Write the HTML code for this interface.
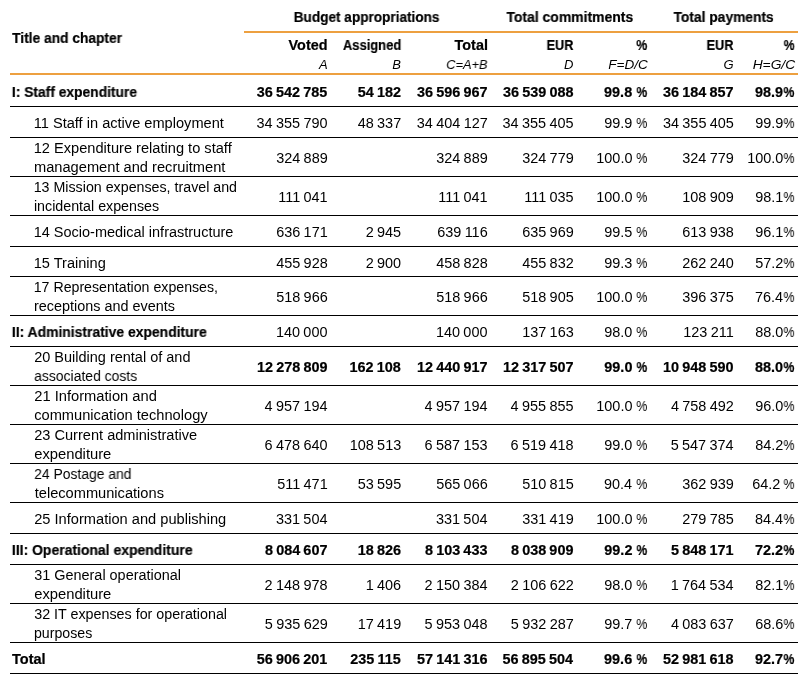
<!DOCTYPE html>
<html lang="en">
<head>
<meta charset="utf-8">
<title>Budget table</title>
<style>
html,body{margin:0;padding:0;background:#fff;}
body{width:804px;height:679px;position:relative;overflow:hidden;font-family:"Liberation Sans",sans-serif;color:#000;}
.t{position:absolute;white-space:nowrap;font-size:14px;line-height:16px;height:16px;will-change:transform;}
.l{transform-origin:0 50%;}
.r{transform-origin:100% 50%;}
.b,.bn{font-weight:bold;-webkit-text-stroke:0.2px #000;}
.nn{word-spacing:-0.63px;}
.bn{word-spacing:-0.8px;}
.i{font-style:italic;font-size:13px;}
.hl{position:absolute;left:10px;width:788px;height:1px;background:#000;}
.ol{position:absolute;height:2px;background:#EDA040;}
</style>
</head>
<body>
<div class="ol" style="left:244px;width:554px;top:31px"></div>
<div class="ol" style="left:10px;width:788px;top:73px"></div>
<div class="hl" style="top:106px"></div>
<div class="hl" style="top:137px"></div>
<div class="hl" style="top:176px"></div>
<div class="hl" style="top:215px"></div>
<div class="hl" style="top:246px"></div>
<div class="hl" style="top:276px"></div>
<div class="hl" style="top:315px"></div>
<div class="hl" style="top:346px"></div>
<div class="hl" style="top:385px"></div>
<div class="hl" style="top:424px"></div>
<div class="hl" style="top:463px"></div>
<div class="hl" style="top:502px"></div>
<div class="hl" style="top:533px"></div>
<div class="hl" style="top:564px"></div>
<div class="hl" style="top:603px"></div>
<div class="hl" style="top:642px"></div>
<div class="hl" style="top:673px"></div>
<div class="t b l" style="left:12px;top:30px;transform:translate(0.10px,0.00px) scaleX(0.9839)">Title and chapter</div>
<div class="t b l" style="left:293px;top:9px;transform:translate(0.75px,0.00px) scaleX(0.9705)">Budget appropriations</div>
<div class="t b l" style="left:506px;top:9px;transform:translate(0.45px,0.00px) scaleX(0.9957)">Total commitments</div>
<div class="t b l" style="left:673px;top:9px;transform:translate(0.55px,0.00px) scaleX(0.9851)">Total payments</div>
<div class="t b r" style="right:477px;top:37px;transform:translate(0.60px,0.00px) scaleX(1.0270)">Voted</div>
<div class="t b r" style="right:403px;top:37px;transform:translate(0.20px,0.00px) scaleX(0.9247)">Assigned</div>
<div class="t b r" style="right:317px;top:37px;transform:translate(0.50px,0.00px) scaleX(1.0286)">Total</div>
<div class="t b r" style="right:231px;top:37px;transform:translate(0.80px,0.00px) scaleX(0.9053)">EUR</div>
<div class="t b r" style="right:158px;top:37px;transform:translate(0.75px,0.00px) scaleX(0.8750)">%</div>
<div class="t b r" style="right:71px;top:37px;transform:translate(0.90px,0.00px) scaleX(0.9097)">EUR</div>
<div class="t b r" style="right:10px;top:37px;transform:translate(0.15px,0.00px) scaleX(0.8750)">%</div>
<div class="t i r" style="right:476px;top:57px;transform:translate(0.00px,0.00px)">A</div>
<div class="t i r" style="right:403px;top:57px;transform:translate(0.20px,0.00px)">B</div>
<div class="t i r" style="right:317px;top:57px;transform:translate(0.50px,0.00px) scaleX(0.9816)">C=A+B</div>
<div class="t i r" style="right:232px;top:57px;transform:translate(0.90px,0.00px)">D</div>
<div class="t i r" style="right:157px;top:57px;transform:translate(0.80px,0.00px) scaleX(1.0400)">F=D/C</div>
<div class="t i r" style="right:71px;top:57px;transform:translate(0.50px,0.00px)">G</div>
<div class="t i r" style="right:9px;top:57px;transform:translate(0.00px,0.00px) scaleX(1.0582)">H=G/C</div>
<div class="t b l" style="left:11px;top:84px;transform:translate(0.85px,0.00px) scaleX(0.9873)">I: Staff expenditure</div>
<div class="t bn r" style="right:478px;top:84px;transform:translate(0.75px,0.00px) scaleX(1.0300)">36 542 785</div>
<div class="t bn r" style="right:403px;top:84px;transform:translate(0.00px,0.00px) scaleX(1.0300)">54 182</div>
<div class="t bn r" style="right:317px;top:84px;transform:translate(0.00px,0.00px) scaleX(1.0300)">36 596 967</div>
<div class="t bn r" style="right:231px;top:84px;transform:translate(0.00px,0.00px) scaleX(1.0300)">36 539 088</div>
<div class="t bn r" style="right:173px;top:84px;transform:translate(0.90px,0.00px) scaleX(1.0300)">99.8</div>
<div class="t bn r" style="right:158px;top:84px;transform:translate(0.65px,0.00px) scaleX(0.8500)">%</div>
<div class="t bn r" style="right:71px;top:84px;transform:translate(0.10px,0.00px) scaleX(1.0300)">36 184 857</div>
<div class="t bn r" style="right:22px;top:84px;transform:translate(0.85px,0.00px) scaleX(1.0300)">98.9</div>
<div class="t bn r" style="right:11px;top:84px;transform:translate(0.85px,0.00px) scaleX(0.8681)">%</div>
<div class="t n l" style="left:33px;top:115px;transform:translate(0.70px,0.00px) scaleX(1.0428)">11 Staff in active employment</div>
<div class="t nn r" style="right:477px;top:115px;transform:translate(0.75px,0.00px) scaleX(1.0320)">34 355 790</div>
<div class="t nn r" style="right:403px;top:115px;transform:translate(0.00px,0.00px) scaleX(1.0320)">48 337</div>
<div class="t nn r" style="right:316px;top:115px;transform:translate(0.00px,0.00px) scaleX(1.0320)">34 404 127</div>
<div class="t nn r" style="right:231px;top:115px;transform:translate(0.75px,0.00px) scaleX(1.0320)">34 355 405</div>
<div class="t nn r" style="right:172px;top:115px;transform:translate(0.15px,0.00px) scaleX(1.0320)">99.9</div>
<div class="t nn r" style="right:158px;top:115px;transform:translate(0.90px,0.00px) scaleX(0.8870)">%</div>
<div class="t nn r" style="right:70px;top:115px;transform:translate(0.10px,0.00px) scaleX(1.0320)">34 355 405</div>
<div class="t nn r" style="right:21px;top:115px;transform:translate(0.10px,0.00px) scaleX(1.0320)">99.9</div>
<div class="t nn r" style="right:10px;top:115px;transform:translate(0.10px,0.00px) scaleX(0.8870)">%</div>
<div class="t n l" style="left:33px;top:140px;transform:translate(0.70px,0.00px) scaleX(1.0440)">12 Expenditure relating to staff</div>
<div class="t n l" style="left:33px;top:159px;transform:translate(0.95px,0.00px) scaleX(1.0467)">management and recruitment</div>
<div class="t nn r" style="right:477px;top:150px;transform:translate(0.75px,0.00px) scaleX(1.0320)">324 889</div>
<div class="t nn r" style="right:317px;top:150px;transform:translate(0.75px,0.00px) scaleX(1.0320)">324 889</div>
<div class="t nn r" style="right:231px;top:150px;transform:translate(0.75px,0.00px) scaleX(1.0320)">324 779</div>
<div class="t nn r" style="right:172px;top:150px;transform:translate(0.40px,0.00px) scaleX(1.0320)">100.0</div>
<div class="t nn r" style="right:158px;top:150px;transform:translate(0.90px,0.00px) scaleX(0.8870)">%</div>
<div class="t nn r" style="right:71px;top:150px;transform:translate(0.85px,0.00px) scaleX(1.0320)">324 779</div>
<div class="t nn r" style="right:21px;top:150px;transform:translate(0.35px,0.00px) scaleX(1.0320)">100.0</div>
<div class="t nn r" style="right:10px;top:150px;transform:translate(0.10px,0.00px) scaleX(0.8870)">%</div>
<div class="t n l" style="left:33px;top:179px;transform:translate(0.70px,0.00px) scaleX(1.0167)">13 Mission expenses, travel and</div>
<div class="t n l" style="left:33px;top:198px;transform:translate(0.95px,0.00px) scaleX(1.0181)">incidental expenses</div>
<div class="t nn r" style="right:477px;top:189px;transform:translate(0.75px,0.00px) scaleX(1.0320)">111 041</div>
<div class="t nn r" style="right:317px;top:189px;transform:translate(0.75px,0.00px) scaleX(1.0320)">111 041</div>
<div class="t nn r" style="right:231px;top:189px;transform:translate(0.75px,0.00px) scaleX(1.0320)">111 035</div>
<div class="t nn r" style="right:172px;top:189px;transform:translate(0.40px,0.00px) scaleX(1.0320)">100.0</div>
<div class="t nn r" style="right:158px;top:189px;transform:translate(0.90px,0.00px) scaleX(0.8870)">%</div>
<div class="t nn r" style="right:71px;top:189px;transform:translate(0.85px,0.00px) scaleX(1.0320)">108 909</div>
<div class="t nn r" style="right:21px;top:189px;transform:translate(0.10px,0.00px) scaleX(1.0320)">98.1</div>
<div class="t nn r" style="right:10px;top:189px;transform:translate(0.10px,0.00px) scaleX(0.8870)">%</div>
<div class="t n l" style="left:33px;top:224px;transform:translate(0.70px,0.00px) scaleX(1.0348)">14 Socio-medical infrastructure</div>
<div class="t nn r" style="right:477px;top:224px;transform:translate(0.75px,0.00px) scaleX(1.0320)">636 171</div>
<div class="t nn r" style="right:404px;top:224px;transform:translate(0.75px,0.00px) scaleX(1.0320)">2 945</div>
<div class="t nn r" style="right:317px;top:224px;transform:translate(0.75px,0.00px) scaleX(1.0320)">639 116</div>
<div class="t nn r" style="right:231px;top:224px;transform:translate(0.75px,0.00px) scaleX(1.0320)">635 969</div>
<div class="t nn r" style="right:172px;top:224px;transform:translate(0.15px,0.00px) scaleX(1.0320)">99.5</div>
<div class="t nn r" style="right:158px;top:224px;transform:translate(0.90px,0.00px) scaleX(0.8870)">%</div>
<div class="t nn r" style="right:71px;top:224px;transform:translate(0.85px,0.00px) scaleX(1.0320)">613 938</div>
<div class="t nn r" style="right:21px;top:224px;transform:translate(0.10px,0.00px) scaleX(1.0320)">96.1</div>
<div class="t nn r" style="right:10px;top:224px;transform:translate(0.10px,0.00px) scaleX(0.8870)">%</div>
<div class="t n l" style="left:33px;top:255px;transform:translate(0.70px,0.00px) scaleX(1.0409)">15 Training</div>
<div class="t nn r" style="right:477px;top:255px;transform:translate(0.75px,0.00px) scaleX(1.0320)">455 928</div>
<div class="t nn r" style="right:404px;top:255px;transform:translate(0.75px,0.00px) scaleX(1.0320)">2 900</div>
<div class="t nn r" style="right:317px;top:255px;transform:translate(0.75px,0.00px) scaleX(1.0320)">458 828</div>
<div class="t nn r" style="right:231px;top:255px;transform:translate(0.75px,0.00px) scaleX(1.0320)">455 832</div>
<div class="t nn r" style="right:172px;top:255px;transform:translate(0.15px,0.00px) scaleX(1.0320)">99.3</div>
<div class="t nn r" style="right:158px;top:255px;transform:translate(0.90px,0.00px) scaleX(0.8870)">%</div>
<div class="t nn r" style="right:71px;top:255px;transform:translate(0.85px,0.00px) scaleX(1.0320)">262 240</div>
<div class="t nn r" style="right:21px;top:255px;transform:translate(0.10px,0.00px) scaleX(1.0320)">57.2</div>
<div class="t nn r" style="right:10px;top:255px;transform:translate(0.10px,0.00px) scaleX(0.8870)">%</div>
<div class="t n l" style="left:33px;top:279px;transform:translate(0.70px,0.00px) scaleX(1.0120)">17 Representation expenses,</div>
<div class="t n l" style="left:33px;top:298px;transform:translate(0.95px,0.00px) scaleX(1.0288)">receptions and events</div>
<div class="t nn r" style="right:477px;top:289px;transform:translate(0.75px,0.00px) scaleX(1.0320)">518 966</div>
<div class="t nn r" style="right:317px;top:289px;transform:translate(0.75px,0.00px) scaleX(1.0320)">518 966</div>
<div class="t nn r" style="right:231px;top:289px;transform:translate(0.75px,0.00px) scaleX(1.0320)">518 905</div>
<div class="t nn r" style="right:172px;top:289px;transform:translate(0.40px,0.00px) scaleX(1.0320)">100.0</div>
<div class="t nn r" style="right:158px;top:289px;transform:translate(0.90px,0.00px) scaleX(0.8870)">%</div>
<div class="t nn r" style="right:71px;top:289px;transform:translate(0.85px,0.00px) scaleX(1.0320)">396 375</div>
<div class="t nn r" style="right:22px;top:289px;transform:translate(0.85px,0.00px) scaleX(1.0320)">76.4</div>
<div class="t nn r" style="right:10px;top:289px;transform:translate(0.10px,0.00px) scaleX(0.8870)">%</div>
<div class="t b l" style="left:11px;top:324px;transform:translate(0.85px,0.00px) scaleX(0.9928)">II: Administrative expenditure</div>
<div class="t nn r" style="right:477px;top:324px;transform:translate(0.50px,0.00px) scaleX(1.0320)">140 000</div>
<div class="t nn r" style="right:317px;top:324px;transform:translate(0.50px,0.00px) scaleX(1.0320)">140 000</div>
<div class="t nn r" style="right:231px;top:324px;transform:translate(0.75px,0.00px) scaleX(1.0320)">137 163</div>
<div class="t nn r" style="right:172px;top:324px;transform:translate(0.15px,0.00px) scaleX(1.0320)">98.0</div>
<div class="t nn r" style="right:158px;top:324px;transform:translate(0.90px,0.00px) scaleX(0.8870)">%</div>
<div class="t nn r" style="right:71px;top:324px;transform:translate(0.85px,0.00px) scaleX(1.0320)">123 211</div>
<div class="t nn r" style="right:21px;top:324px;transform:translate(0.10px,0.00px) scaleX(1.0320)">88.0</div>
<div class="t nn r" style="right:10px;top:324px;transform:translate(0.10px,0.00px) scaleX(0.8870)">%</div>
<div class="t n l" style="left:34px;top:349px;transform:translate(0.20px,0.00px) scaleX(1.0348)">20 Building rental of and</div>
<div class="t n l" style="left:34px;top:368px;transform:translate(0.20px,0.00px) scaleX(0.9946)">associated costs</div>
<div class="t bn r" style="right:477px;top:359px;transform:translate(0.00px,0.00px) scaleX(1.0300)">12 278 809</div>
<div class="t bn r" style="right:403px;top:359px;transform:translate(0.00px,0.00px) scaleX(1.0300)">162 108</div>
<div class="t bn r" style="right:317px;top:359px;transform:translate(0.00px,0.00px) scaleX(1.0300)">12 440 917</div>
<div class="t bn r" style="right:231px;top:359px;transform:translate(0.00px,0.00px) scaleX(1.0300)">12 317 507</div>
<div class="t bn r" style="right:172px;top:359px;transform:translate(0.15px,0.00px) scaleX(1.0300)">99.0</div>
<div class="t bn r" style="right:158px;top:359px;transform:translate(0.65px,0.00px) scaleX(0.8500)">%</div>
<div class="t bn r" style="right:71px;top:359px;transform:translate(0.10px,0.00px) scaleX(1.0300)">10 948 590</div>
<div class="t bn r" style="right:22px;top:359px;transform:translate(0.85px,0.00px) scaleX(1.0300)">88.0</div>
<div class="t bn r" style="right:11px;top:359px;transform:translate(0.85px,0.00px) scaleX(0.8681)">%</div>
<div class="t n l" style="left:34px;top:388px;transform:translate(0.20px,0.00px) scaleX(1.0508)">21 Information and</div>
<div class="t n l" style="left:34px;top:407px;transform:translate(0.20px,0.00px) scaleX(1.0461)">communication technology</div>
<div class="t nn r" style="right:477px;top:398px;transform:translate(0.50px,0.00px) scaleX(1.0320)">4 957 194</div>
<div class="t nn r" style="right:317px;top:398px;transform:translate(0.50px,0.00px) scaleX(1.0320)">4 957 194</div>
<div class="t nn r" style="right:231px;top:398px;transform:translate(0.50px,0.00px) scaleX(1.0320)">4 955 855</div>
<div class="t nn r" style="right:172px;top:398px;transform:translate(0.40px,0.00px) scaleX(1.0320)">100.0</div>
<div class="t nn r" style="right:158px;top:398px;transform:translate(0.90px,0.00px) scaleX(0.8870)">%</div>
<div class="t nn r" style="right:71px;top:398px;transform:translate(0.85px,0.00px) scaleX(1.0320)">4 758 492</div>
<div class="t nn r" style="right:21px;top:398px;transform:translate(0.10px,0.00px) scaleX(1.0320)">96.0</div>
<div class="t nn r" style="right:10px;top:398px;transform:translate(0.10px,0.00px) scaleX(0.8870)">%</div>
<div class="t n l" style="left:34px;top:427px;transform:translate(0.20px,0.00px) scaleX(1.0415)">23 Current administrative</div>
<div class="t n l" style="left:34px;top:446px;transform:translate(0.20px,0.00px) scaleX(1.0542)">expenditure</div>
<div class="t nn r" style="right:477px;top:437px;transform:translate(0.50px,0.00px) scaleX(1.0320)">6 478 640</div>
<div class="t nn r" style="right:403px;top:437px;transform:translate(0.25px,0.00px) scaleX(1.0320)">108 513</div>
<div class="t nn r" style="right:317px;top:437px;transform:translate(0.50px,0.00px) scaleX(1.0320)">6 587 153</div>
<div class="t nn r" style="right:231px;top:437px;transform:translate(0.50px,0.00px) scaleX(1.0320)">6 519 418</div>
<div class="t nn r" style="right:172px;top:437px;transform:translate(0.15px,0.00px) scaleX(1.0320)">99.0</div>
<div class="t nn r" style="right:158px;top:437px;transform:translate(0.90px,0.00px) scaleX(0.8870)">%</div>
<div class="t nn r" style="right:71px;top:437px;transform:translate(0.60px,0.00px) scaleX(1.0320)">5 547 374</div>
<div class="t nn r" style="right:21px;top:437px;transform:translate(0.10px,0.00px) scaleX(1.0320)">84.2</div>
<div class="t nn r" style="right:10px;top:437px;transform:translate(0.10px,0.00px) scaleX(0.8870)">%</div>
<div class="t n l" style="left:34px;top:466px;transform:translate(0.20px,0.00px) scaleX(0.9917)">24 Postage and</div>
<div class="t n l" style="left:34px;top:485px;transform:translate(0.70px,0.00px) scaleX(1.0447)">telecommunications</div>
<div class="t nn r" style="right:477px;top:476px;transform:translate(0.75px,0.00px) scaleX(1.0320)">511 471</div>
<div class="t nn r" style="right:403px;top:476px;transform:translate(0.00px,0.00px) scaleX(1.0320)">53 595</div>
<div class="t nn r" style="right:317px;top:476px;transform:translate(0.75px,0.00px) scaleX(1.0320)">565 066</div>
<div class="t nn r" style="right:231px;top:476px;transform:translate(0.75px,0.00px) scaleX(1.0320)">510 815</div>
<div class="t nn r" style="right:173px;top:476px;transform:translate(0.90px,0.00px) scaleX(1.0320)">90.4</div>
<div class="t nn r" style="right:158px;top:476px;transform:translate(0.90px,0.00px) scaleX(0.8870)">%</div>
<div class="t nn r" style="right:71px;top:476px;transform:translate(0.85px,0.00px) scaleX(1.0320)">362 939</div>
<div class="t nn r" style="right:24px;top:476px;transform:translate(0.05px,0.00px) scaleX(1.0320)">64.2</div>
<div class="t nn r" style="right:10px;top:476px;transform:translate(0.10px,0.00px) scaleX(0.8870)">%</div>
<div class="t n l" style="left:34px;top:511px;transform:translate(0.20px,0.00px) scaleX(1.0453)">25 Information and publishing</div>
<div class="t nn r" style="right:477px;top:511px;transform:translate(0.50px,0.00px) scaleX(1.0320)">331 504</div>
<div class="t nn r" style="right:317px;top:511px;transform:translate(0.50px,0.00px) scaleX(1.0320)">331 504</div>
<div class="t nn r" style="right:231px;top:511px;transform:translate(0.75px,0.00px) scaleX(1.0320)">331 419</div>
<div class="t nn r" style="right:172px;top:511px;transform:translate(0.40px,0.00px) scaleX(1.0320)">100.0</div>
<div class="t nn r" style="right:158px;top:511px;transform:translate(0.90px,0.00px) scaleX(0.8870)">%</div>
<div class="t nn r" style="right:71px;top:511px;transform:translate(0.85px,0.00px) scaleX(1.0320)">279 785</div>
<div class="t nn r" style="right:22px;top:511px;transform:translate(0.85px,0.00px) scaleX(1.0320)">84.4</div>
<div class="t nn r" style="right:10px;top:511px;transform:translate(0.10px,0.00px) scaleX(0.8870)">%</div>
<div class="t b l" style="left:11px;top:542px;transform:translate(0.85px,0.00px) scaleX(0.9972)">III: Operational expenditure</div>
<div class="t bn r" style="right:477px;top:542px;transform:translate(0.75px,0.00px) scaleX(1.0300)">8 084 607</div>
<div class="t bn r" style="right:403px;top:542px;transform:translate(0.00px,0.00px) scaleX(1.0300)">18 826</div>
<div class="t bn r" style="right:317px;top:542px;transform:translate(0.75px,0.00px) scaleX(1.0300)">8 103 433</div>
<div class="t bn r" style="right:231px;top:542px;transform:translate(0.75px,0.00px) scaleX(1.0300)">8 038 909</div>
<div class="t bn r" style="right:172px;top:542px;transform:translate(0.15px,0.00px) scaleX(1.0300)">99.2</div>
<div class="t bn r" style="right:158px;top:542px;transform:translate(0.65px,0.00px) scaleX(0.8500)">%</div>
<div class="t bn r" style="right:71px;top:542px;transform:translate(0.85px,0.00px) scaleX(1.0300)">5 848 171</div>
<div class="t bn r" style="right:22px;top:542px;transform:translate(0.85px,0.00px) scaleX(1.0300)">72.2</div>
<div class="t bn r" style="right:11px;top:542px;transform:translate(0.85px,0.00px) scaleX(0.8681)">%</div>
<div class="t n l" style="left:34px;top:567px;transform:translate(0.20px,0.00px) scaleX(1.0305)">31 General operational</div>
<div class="t n l" style="left:34px;top:586px;transform:translate(0.20px,0.00px) scaleX(1.0542)">expenditure</div>
<div class="t nn r" style="right:477px;top:577px;transform:translate(0.50px,0.00px) scaleX(1.0320)">2 148 978</div>
<div class="t nn r" style="right:404px;top:577px;transform:translate(0.75px,0.00px) scaleX(1.0320)">1 406</div>
<div class="t nn r" style="right:317px;top:577px;transform:translate(0.50px,0.00px) scaleX(1.0320)">2 150 384</div>
<div class="t nn r" style="right:231px;top:577px;transform:translate(0.75px,0.00px) scaleX(1.0320)">2 106 622</div>
<div class="t nn r" style="right:172px;top:577px;transform:translate(0.15px,0.00px) scaleX(1.0320)">98.0</div>
<div class="t nn r" style="right:158px;top:577px;transform:translate(0.90px,0.00px) scaleX(0.8870)">%</div>
<div class="t nn r" style="right:71px;top:577px;transform:translate(0.60px,0.00px) scaleX(1.0320)">1 764 534</div>
<div class="t nn r" style="right:21px;top:577px;transform:translate(0.10px,0.00px) scaleX(1.0320)">82.1</div>
<div class="t nn r" style="right:10px;top:577px;transform:translate(0.10px,0.00px) scaleX(0.8870)">%</div>
<div class="t n l" style="left:34px;top:606px;transform:translate(0.20px,0.00px) scaleX(1.0211)">32 IT expenses for operational</div>
<div class="t n l" style="left:33px;top:625px;transform:translate(0.95px,0.00px) scaleX(1.0116)">purposes</div>
<div class="t nn r" style="right:477px;top:616px;transform:translate(0.75px,0.00px) scaleX(1.0320)">5 935 629</div>
<div class="t nn r" style="right:403px;top:616px;transform:translate(0.00px,0.00px) scaleX(1.0320)">17 419</div>
<div class="t nn r" style="right:317px;top:616px;transform:translate(0.50px,0.00px) scaleX(1.0320)">5 953 048</div>
<div class="t nn r" style="right:231px;top:616px;transform:translate(0.75px,0.00px) scaleX(1.0320)">5 932 287</div>
<div class="t nn r" style="right:172px;top:616px;transform:translate(0.15px,0.00px) scaleX(1.0320)">99.7</div>
<div class="t nn r" style="right:158px;top:616px;transform:translate(0.90px,0.00px) scaleX(0.8870)">%</div>
<div class="t nn r" style="right:71px;top:616px;transform:translate(0.85px,0.00px) scaleX(1.0320)">4 083 637</div>
<div class="t nn r" style="right:21px;top:616px;transform:translate(0.10px,0.00px) scaleX(1.0320)">68.6</div>
<div class="t nn r" style="right:10px;top:616px;transform:translate(0.10px,0.00px) scaleX(0.8870)">%</div>
<div class="t b l" style="left:11px;top:651px;transform:translate(0.95px,0.00px) scaleX(1.0381)">Total</div>
<div class="t bn r" style="right:478px;top:651px;transform:translate(0.75px,0.00px) scaleX(1.0300)">56 906 201</div>
<div class="t bn r" style="right:404px;top:651px;transform:translate(0.75px,0.00px) scaleX(1.0300)">235 115</div>
<div class="t bn r" style="right:317px;top:651px;transform:translate(0.00px,0.00px) scaleX(1.0300)">57 141 316</div>
<div class="t bn r" style="right:232px;top:651px;transform:translate(0.50px,0.00px) scaleX(1.0300)">56 895 504</div>
<div class="t bn r" style="right:173px;top:651px;transform:translate(0.90px,0.00px) scaleX(1.0300)">99.6</div>
<div class="t bn r" style="right:158px;top:651px;transform:translate(0.65px,0.00px) scaleX(0.8500)">%</div>
<div class="t bn r" style="right:71px;top:651px;transform:translate(0.10px,0.00px) scaleX(1.0300)">52 981 618</div>
<div class="t bn r" style="right:22px;top:651px;transform:translate(0.85px,0.00px) scaleX(1.0300)">92.7</div>
<div class="t bn r" style="right:11px;top:651px;transform:translate(0.85px,0.00px) scaleX(0.8681)">%</div>
</body>
</html>
